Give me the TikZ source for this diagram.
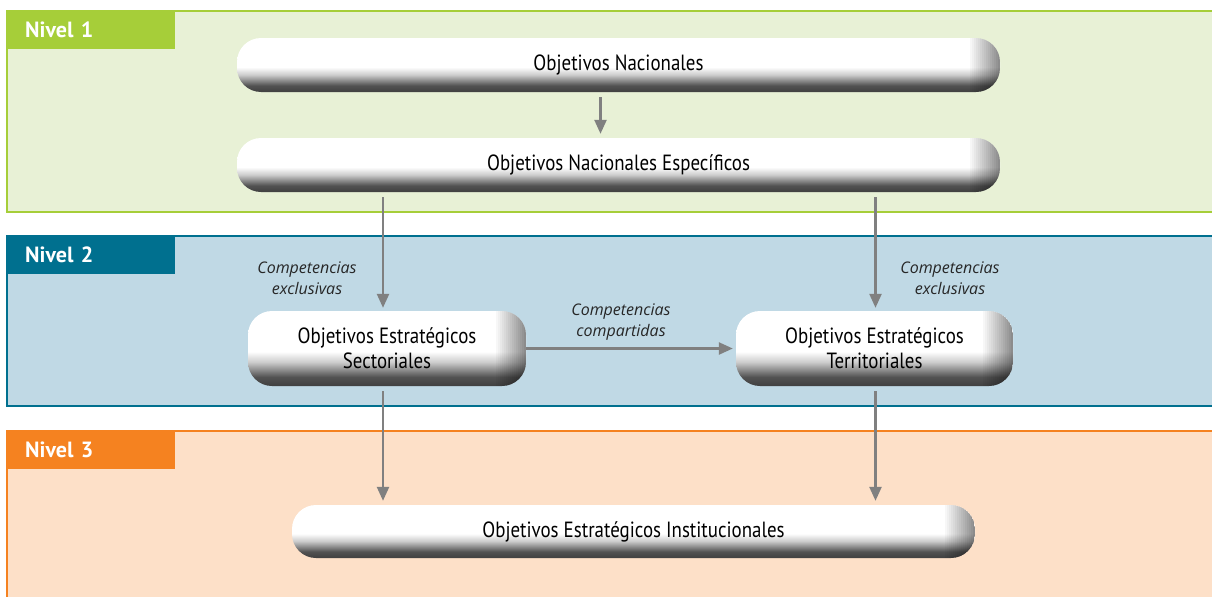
\documentclass[tikz,border=0pt]{standalone}
\usepackage{fontspec}
\setmainfont{PT Sans}
\newfontfamily\boxfont[FakeStretch=0.86]{PT Sans}
\newfontfamily\notefont{Open Sans}
\usetikzlibrary{positioning,arrows.meta}

\definecolor{greenline}{RGB}{166,206,57}
\definecolor{greenfill}{RGB}{232,241,214}
\definecolor{blueline}{RGB}{0,112,143}
\definecolor{bluefill}{RGB}{192,217,229}
\definecolor{orangeline}{RGB}{245,130,32}
\definecolor{orangefill}{RGB}{253,224,200}
\definecolor{arrowgray}{RGB}{128,128,128}

\pgfdeclareverticalshading{pillshade}{100bp}{color(0bp)=(black!75); color(25bp)=(black!75); color(31bp)=(black!68); color(41bp)=(black!20); color(48bp)=(white); color(100bp)=(white)}

\tikzset{
  pill/.style={rounded corners=24pt, shading=pillshade, inner sep=0pt, align=center,
    font=\boxfont\fontsize{22}{25}\selectfont,
    path picture={\foreach \i in {1,...,15}
      \fill[sharp corners, black, fill opacity=0.03*\i] ([xshift={(\i-16)*2pt}]path picture bounding box.north east) rectangle ([xshift={(\i-15)*2pt}]path picture bounding box.south east);}},
  flow/.style={draw=arrowgray, line width=2.4pt, -{Triangle[length=14pt,width=12pt]}},
  note/.style={align=center, text=black!85, font=\notefont\itshape\fontsize{16}{21}\selectfont},
  tab/.style={anchor=north west, minimum height=38pt, text width=132pt, inner xsep=18pt, align=left, text=white, font=\bfseries\fontsize{22}{24}\selectfont},
  band/.style={line width=2.5pt}
}

\begin{document}
\begin{tikzpicture}[x=1pt,y=-1pt]
  \useasboundingbox (0,0) rectangle (1212,597);
  % niveles
  \fill[greenfill] (7,11) rectangle (1212,212);
  \draw[band,greenline] (1212,11) -- (7,11) -- (7,212) -- (1212,212);
  \fill[bluefill] (7,236) rectangle (1212,406);
  \draw[band,blueline] (1212,236) -- (7,236) -- (7,406) -- (1212,406);
  \fill[orangefill] (7,431) rectangle (1212,597);
  \draw[band,orangeline] (1212,431) -- (7,431) -- (7,597);
  \node[tab, fill=greenline] (n1) at (7,11) {Nivel 1};
  \node[tab, fill=blueline] (n2) at (7,236) {Nivel 2};
  \node[tab, fill=orangeline] (n3) at (7,431) {Nivel 3};
  % objetivos
  \node[pill, minimum width=763pt, minimum height=54pt] (nac) at (618.5,65) {Objetivos Nacionales};
  \node[pill, minimum width=763pt, minimum height=54pt] (nacesp) at (618.5,165) {Objetivos Nacionales Específicos};
  \node[pill, minimum width=278pt, minimum height=75pt] (sect) at (387,348.5) {Objetivos Estratégicos\\Sectoriales};
  \node[pill, minimum width=277pt, minimum height=75pt] (terr) at (874.5,348.5) {Objetivos Estratégicos\\Territoriales};
  \node[pill, minimum width=683pt, minimum height=53pt] (inst) at (633.5,531.5) {Objetivos Estratégicos Institucionales};
  % competencias
  \node[note] (exizq) at (307,278) {Competencias\\exclusivas};
  \node[note] (exder) at (950,278) {Competencias\\exclusivas};
  \node[note] (comp) at (621,322) {Competencias\\compartidas};
  % flechas
  \draw[flow] ([xshift=-18pt,yshift=-5pt]nac.south) -- ([xshift=-18pt,yshift=4pt]nacesp.north);
  \draw[flow] ([xshift=-4pt]sect.north |- nacesp.south) ++(0,5) -- ([xshift=-4pt,yshift=3pt]sect.north);
  \draw[flow] ([xshift=1pt]terr.north |- nacesp.south) ++(0,5) -- ([xshift=1pt,yshift=3pt]terr.north);
  \draw[flow] (sect.east) -- ([xshift=-3pt]terr.west);
  \draw[flow] ([xshift=-4pt,yshift=-5pt]sect.south) -- ([xshift=-4pt,yshift=4pt]sect.south |- inst.north);
  \draw[flow] ([xshift=1pt,yshift=-5pt]terr.south) -- ([xshift=1pt,yshift=4pt]terr.south |- inst.north);
\end{tikzpicture}
\end{document}
